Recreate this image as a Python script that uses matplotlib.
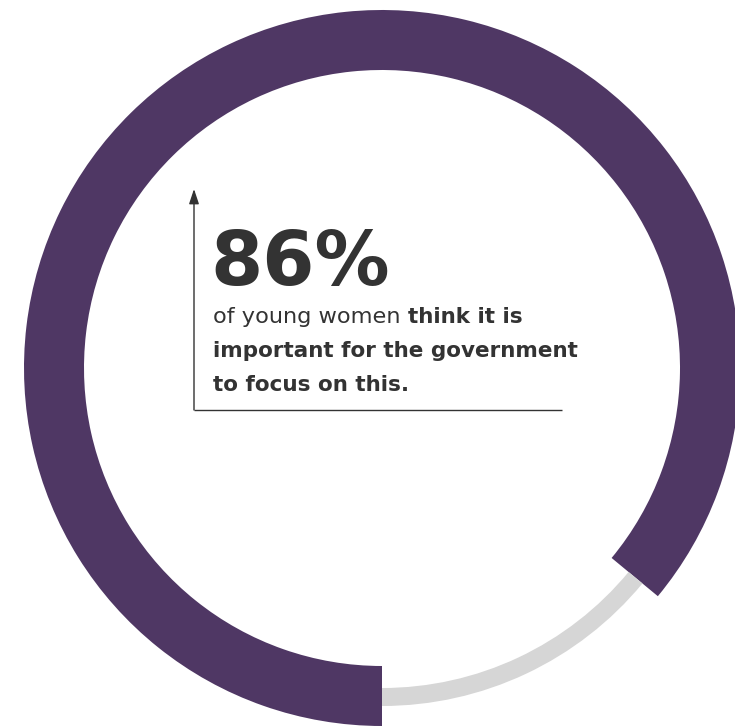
import matplotlib
matplotlib.use("Agg")
import matplotlib.pyplot as plt

# Data
categories = ["Think it is important", "Other"]
values = [86, 14]
headline = "86%"
line1_regular = "of young women "
line1_bold = "think it is"
line2 = "important for the government"
line3 = "to focus on this."

purple = "#4F3764"
grey = "#D6D6D6"
text_color = "#333333"

W, H = 735, 726
fig = plt.figure(figsize=(W / 100, H / 100), dpi=100)
ax = fig.add_axes([0, 0, 1, 1])

cx, cy = 382, 368
# Purple ring
ax.pie(values, colors=[purple, "none"], radius=358, center=(cx, cy),
       startangle=90, counterclock=True,
       wedgeprops=dict(width=60, linewidth=0))
# Grey remainder ring
ax.pie(values, colors=["none", grey], radius=338, center=(cx, cy),
       startangle=90, counterclock=True,
       wedgeprops=dict(width=18, linewidth=0))

ax.set_xlim(0, W)
ax.set_ylim(H, 0)
ax.set_aspect("equal")
ax.axis("off")

font = "DejaVu Sans"
fs = 15.5
ax.text(210, 285, headline, fontsize=54, fontweight="bold", family=font,
        color=text_color, ha="left", va="baseline")
t1 = ax.text(213, 323, line1_regular, fontsize=16.2, family=font,
             color=text_color, ha="left", va="baseline")
ax.annotate(line1_bold, xy=(1, 0), xycoords=t1, fontsize=fs,
            fontweight="bold", family=font, color=text_color,
            ha="left", va="bottom")
ax.text(213, 357, line2, fontsize=fs, fontweight="bold", family=font,
        color=text_color, ha="left", va="baseline")
ax.text(213, 391, line3, fontsize=fs, fontweight="bold", family=font,
        color=text_color, ha="left", va="baseline")

# Axis-like arrow lines
ax.annotate("", xy=(194, 189), xytext=(194, 410),
            arrowprops=dict(arrowstyle="-|>,head_length=0.9,head_width=0.3",
                            color=text_color, lw=1.0, shrinkA=0, shrinkB=0))
ax.plot([194, 562], [410, 410], color=text_color, lw=1.0,
        solid_capstyle="butt")

fig.savefig("out.png", dpi=100)
